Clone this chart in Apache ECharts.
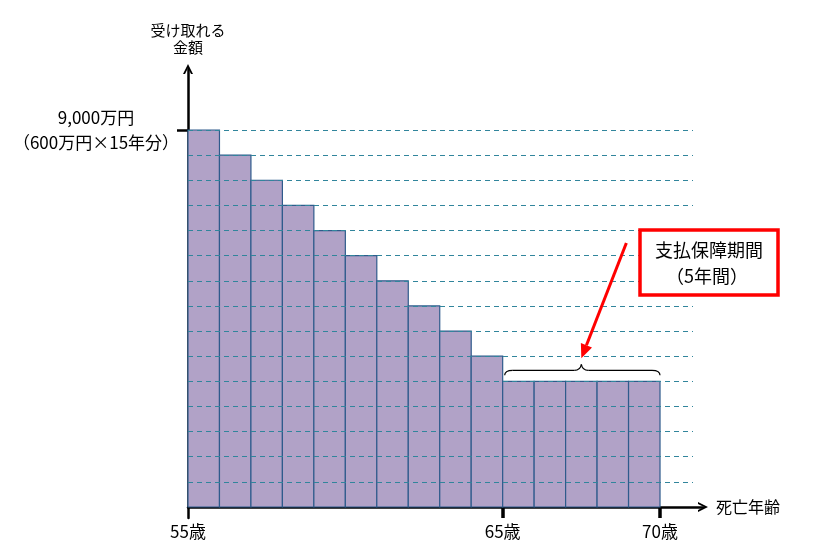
<!DOCTYPE html>
<html>
<head>
<meta charset="utf-8">
<script src="https://cdn.jsdelivr.net/npm/echarts@6/dist/echarts.min.js"></script>
<style>html,body{margin:0;padding:0;background:#fff;}#c{width:817px;height:558px;}</style>
</head>
<body>
<div id="c"></div>
<script>
// ---- data ----
const ages = [55,56,57,58,59,60,61,62,63,64,65,66,67,68,69];
const amounts = [9000,8400,7800,7200,6600,6000,5400,4800,4200,3600,3000,3000,3000,3000,3000];
const xTickAges = [55,65,70];
const yTickValues = [9000];
const yTickLabel = '9,000万円\n（600万円×15年分）';
const yAxisTitle = '受け取れる\n金額';
const xAxisTitle = '死亡年齢';
const noteLines = ['支払保障期間', '（5年間）'];
const periodStart = 65, periodEnd = 70, periodLevel = 3000;

const FONT = '"Noto Sans CJK JP", "Noto Sans", sans-serif';
const chevron = 'path://M0,10 L5,0 L10,10 L8,10 L5,4 L2,10 Z';

const chart = echarts.init(document.getElementById('c'));
const option = {
  animation: false,
  backgroundColor: '#fff',
  textStyle: { fontFamily: FONT },
  grid: [
    { left: 188, right: 114, top: 69, bottom: 40 },
    { left: 188, right: 124, top: 130, bottom: 51 }
  ],
  xAxis: [
    {
      gridIndex: 0, type: 'value', min: 55, max: 71.366,
      splitLine: { show: false },
      axisLine: { onZero: true, lineStyle: { color: '#000', width: 2.5 }, symbol: ['none', chevron], symbolSize: [11, 10] },
      axisTick: { show: true, customValues: [65, 70], length: 11, lineStyle: { color: '#000', width: 3.5 } },
      axisLabel: { customValues: xTickAges, formatter: v => v + '歳', fontSize: 17, color: '#000', margin: 5, fontFamily: FONT },
      name: xAxisTitle, nameLocation: 'end', nameGap: 13,
      nameTextStyle: { fontSize: 16, color: '#000', fontFamily: FONT }
    },
    { gridIndex: 1, type: 'value', min: 0, max: 1, show: false }
  ],
  yAxis: [
    {
      gridIndex: 0, type: 'value', min: -262.6, max: 10456,
      splitLine: { show: false },
      axisLine: { show: true, onZero: false, lineStyle: { color: '#000', width: 2.5 }, symbol: ['none', chevron], symbolSize: [11, 10] },
      axisTick: { show: true, customValues: yTickValues, length: 11, lineStyle: { color: '#000', width: 2.5 } },
      axisLabel: { customValues: yTickValues, formatter: () => yTickLabel, align: 'center', margin: 92, fontSize: 17, lineHeight: 25, color: '#000', fontFamily: FONT },
      name: yAxisTitle, nameLocation: 'end', nameGap: 13,
      nameTextStyle: { fontSize: 15, lineHeight: 17, color: '#000', align: 'center', fontFamily: FONT }
    },
    {
      gridIndex: 1, type: 'value', min: 0, max: 9000, interval: 600, z: 10,
      axisLine: { show: false }, axisTick: { show: false }, axisLabel: { show: false },
      splitLine: { show: true, showMinLine: false, lineStyle: { color: '#31859c', width: 1, type: [5, 4] } }
    }
  ],
  series: [{
    type: 'custom',
    xAxisIndex: 0, yAxisIndex: 0,
    data: ages.map((a, i) => [a, amounts[i]]),
    renderItem: function (params, api) {
      const a = api.value(0), v = api.value(1);
      const p0 = api.coord([a, v]);
      const p1 = api.coord([a + 1, 0]);
      return {
        type: 'rect',
        shape: { x: p0[0], y: p0[1], width: p1[0] - p0[0], height: p1[1] - p0[1] },
        style: { fill: '#b1a2c7', stroke: '#2f5b8c', lineWidth: 1.2 }
      };
    }
  }]
};
chart.setOption(option);

// annotations positioned from the chart's own scales
const pA = chart.convertToPixel({ gridIndex: 0 }, [periodStart, periodLevel]);
const pB = chart.convertToPixel({ gridIndex: 0 }, [periodEnd, periodLevel]);
const x0 = pA[0] + 2, x1 = pB[0], yb = pA[1], xm = (pA[0] + pB[0]) / 2;
const bs = { fill: 'none', stroke: '#000', lineWidth: 1.2 };
const brace = [
  { type: 'bezierCurve', shape: { x1: x0, y1: yb - 6, cpx1: x0, cpy1: yb - 11, x2: x0 + 8, y2: yb - 11 }, style: bs, z: 20 },
  { type: 'line', shape: { x1: x0 + 8, y1: yb - 11, x2: xm - 7, y2: yb - 11 }, style: bs, z: 20 },
  { type: 'bezierCurve', shape: { x1: xm - 7, y1: yb - 11, cpx1: xm - 1, cpy1: yb - 11, x2: xm, y2: yb - 17 }, style: bs, z: 20 },
  { type: 'bezierCurve', shape: { x1: xm, y1: yb - 17, cpx1: xm + 1, cpy1: yb - 11, x2: xm + 7, y2: yb - 11 }, style: bs, z: 20 },
  { type: 'line', shape: { x1: xm + 7, y1: yb - 11, x2: x1 - 8, y2: yb - 11 }, style: bs, z: 20 },
  { type: 'bezierCurve', shape: { x1: x1 - 8, y1: yb - 11, cpx1: x1, cpy1: yb - 11, x2: x1, y2: yb - 6 }, style: bs, z: 20 }
];
const tipX = xm, tipY = yb - 23;
const startX = tipX + 45, startY = 243;
const ang = Math.atan2(tipY - startY, tipX - startX);
const hl = 14, hw = 6;
const bx = tipX - hl * Math.cos(ang), by = tipY - hl * Math.sin(ang);
const head = [
  [tipX, tipY],
  [bx + hw * Math.sin(ang), by - hw * Math.cos(ang)],
  [bx - hw * Math.sin(ang), by + hw * Math.cos(ang)]
];
chart.setOption({
  graphic: brace.concat([
    { type: 'line', shape: { x1: startX, y1: startY, x2: bx, y2: by }, style: { stroke: '#ff0000', lineWidth: 3 }, z: 20 },
    { type: 'polygon', shape: { points: head }, style: { fill: '#ff0000' }, z: 20 },
    { type: 'rect', shape: { x: 640, y: 230, width: 138, height: 65 }, style: { fill: '#fff', stroke: '#ff0000', lineWidth: 3.5 }, z: 20 },
    { type: 'text', x: 709, y: 250, style: { text: noteLines[0], fontSize: 18, fill: '#000', align: 'center', verticalAlign: 'middle', fontFamily: FONT }, z: 21 },
    { type: 'text', x: 707, y: 276, style: { text: noteLines[1], fontSize: 18, fill: '#000', align: 'center', verticalAlign: 'middle', fontFamily: FONT }, z: 21 }
  ])
});
</script>
</body>
</html>
